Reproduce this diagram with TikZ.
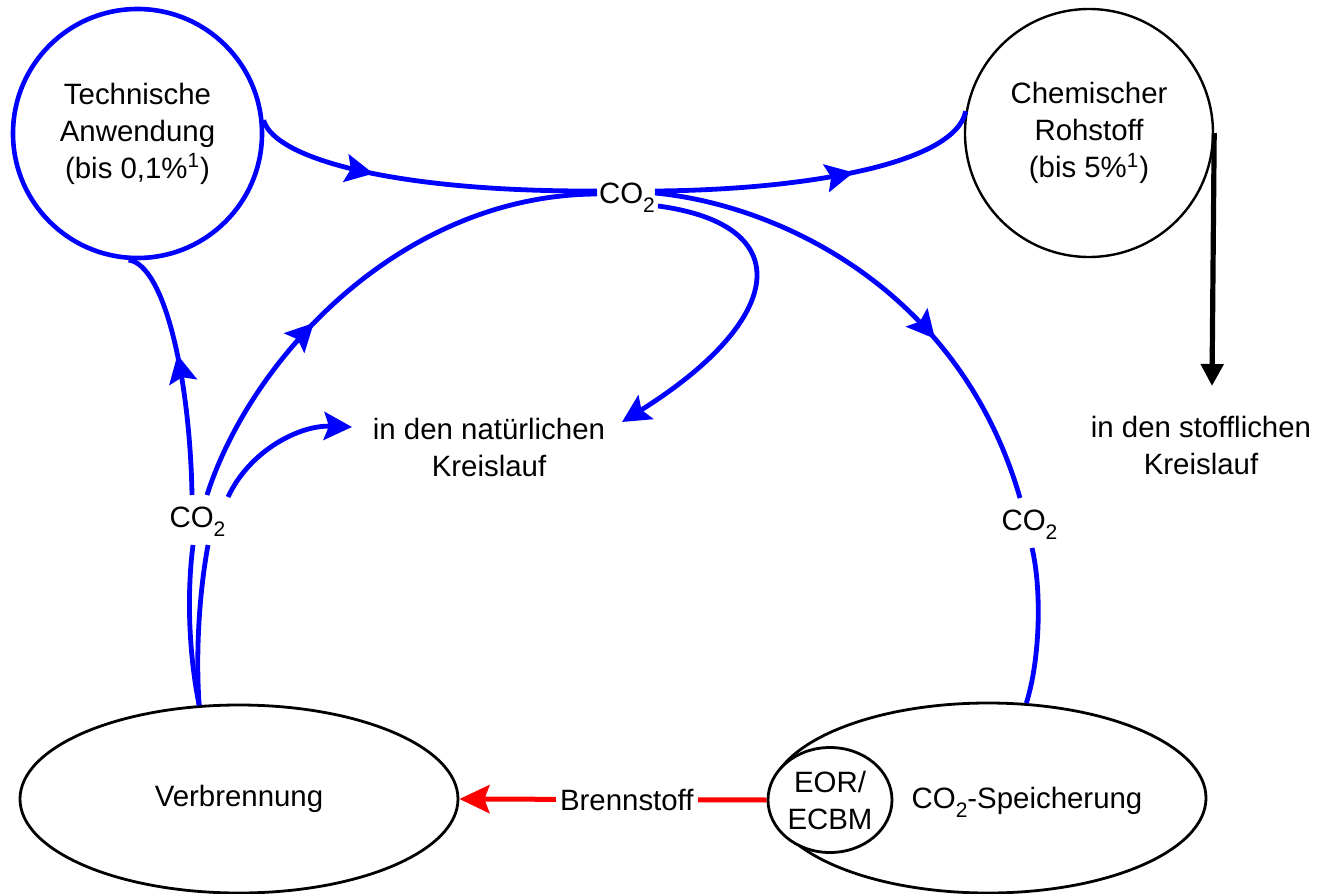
\documentclass[tikz,border=0pt]{standalone}
\usepackage{fontspec}
\setmainfont{Liberation Sans}
\usetikzlibrary{shapes.geometric,arrows.meta,decorations.markings,calc}
\newcommand\lowtwo{\raisebox{-4.5pt}{\fontsize{10.5}{10}\selectfont 2}}
\tikzset{
  every node/.style={font=\fontsize{14.7}{18.5}\selectfont},
  blueline/.style={draw=blue, line width=2.4pt},
  bluetip/.style={-{Stealth[length=14pt,width=14pt,inset=2.5pt]}},
  midarrow/.style={postaction={decorate}, decoration={markings, mark=at position #1 with {\arrow{Stealth[length=14pt,width=14pt,inset=2.5pt]}}}},
  co2lab/.style={inner sep=2pt, anchor=base},
  bigellipse/.style={ellipse, draw=black, line width=1.4pt},
  txt/.style={align=center, inner sep=2pt}
}
\begin{document}
\begin{tikzpicture}[x=0.5pt, y=-0.5pt]
\useasboundingbox (0,0) rectangle (1319,894);

% circles
\node[circle, draw=blue, line width=2.3pt, minimum size=124.5pt, inner sep=0pt, align=center] (tech) at (137.5,133.5) {Technische\\Anwendung\\(bis 0,1\%\textsuperscript{1})};
\node[circle, draw=black, line width=1.2pt, minimum size=124pt, inner sep=0pt, align=center] (chem) at (1089,133) {Chemischer\\Rohstoff\\(bis 5\%\textsuperscript{1})};

% ellipses
\node[bigellipse, minimum width=219pt, minimum height=94pt] (verb) at (239,799) {Verbrennung};
\node[bigellipse, minimum width=218pt, minimum height=95pt] (spei) at (988,798) {};
\node[inner sep=0pt] (speitext) at (1027,802) {CO\lowtwo-Speicherung};
\node[bigellipse, fill=white, minimum width=62pt, minimum height=52.5pt, inner sep=0pt, align=center] (eor) at (830,800) {EOR/\\ECBM};

% CO2 labels
\node[co2lab] (co2top) at (627,203) {CO\lowtwo};
\node[co2lab] (co2l) at (197.5,527) {CO\lowtwo};
\node[co2lab] (co2r) at (1029.5,530) {CO\lowtwo};

% text targets
\node[txt] (natur) at (489,447) {in den natürlichen\\Kreislauf};
\node[txt] (stoff) at (1201,445) {in den stofflichen\\Kreislauf};

\coordinate (nattr) at (622,422);
\coordinate (natl) at (352,427);
\coordinate (stofftip) at (1212,386);

% blue connectors
\draw[blueline, midarrow=0.36] (tech.6) .. controls (275,160) and (400,192) .. ($(co2top.base)+(-30,-12)$);
\draw[blueline, midarrow=0.6] ($(co2top.base)+(28,-12)$) .. controls (800,190) and (955,165) .. (chem.170);
\draw[blueline, midarrow=0.39] ($(co2l.base)+(9.5,-32)$) .. controls (250,360) and (400,195) .. ($(co2top.base)+(-30,-9)$);
\draw[blueline, bluetip] ($(co2top.base)+(31,3)$) .. controls (800,225) and (785,320) .. (nattr);
\draw[blueline, midarrow=0.64] ($(co2top.base)+(28,-10)$) .. controls (780,205) and (960,290) .. ($(co2r.base)+(-9.5,-32)$);
\draw[blueline] ($(co2r.base)+(2.5,18)$) .. controls (1042,590) and (1040,660) .. (spei.68);
\draw[blueline, midarrow=0.56] ($(co2l.base)+(-5.5,-32)$) .. controls (190,380) and (165,265) .. (tech.-94);
\draw[blueline, bluetip] ($(co2l.base)+(30.5,-30)$) .. controls (250,450) and (300,425) .. (natl);
\draw[blueline] ($(co2l.base)+(-4.5,18)$) .. controls (186,600) and (190,660) .. (verb.113);
\draw[blueline] ($(co2l.base)+(10.5,18)$) .. controls (198,600) and (196,660) .. (verb.113);

% black arrow
\draw[line width=2.6pt, -{Triangle[length=11pt,width=11pt]}] (chem.east) -- (stofftip);

% red arrow
\draw[draw=red, line width=2.5pt, -{Stealth[length=15pt,width=14pt,inset=2.5pt]}] (eor.west) -- node[pos=0.455, fill=white, inner xsep=2pt, inner ysep=1pt] (brenn) {Brennstoff} (verb.east);
\end{tikzpicture}
\end{document}
